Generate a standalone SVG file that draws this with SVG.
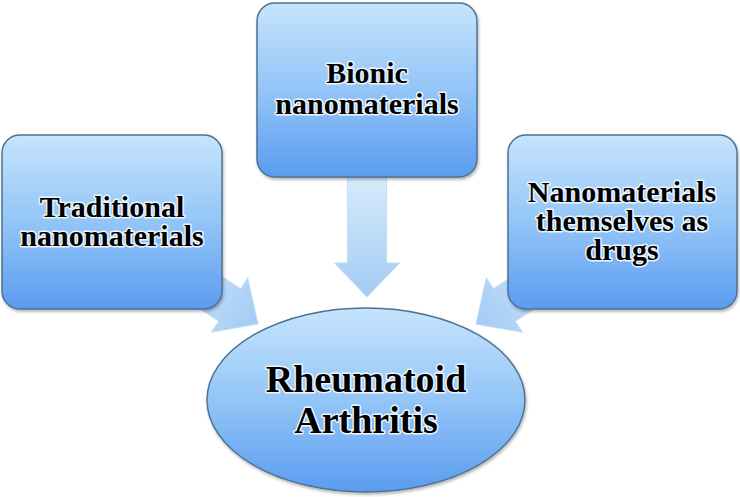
<svg xmlns="http://www.w3.org/2000/svg" width="740" height="497" viewBox="0 0 740 497">
<defs>
<linearGradient id="boxg" x1="0" y1="0" x2="0" y2="1">
<stop offset="0" stop-color="#c6e4fc"/>
<stop offset="0.5" stop-color="#93c5f7"/>
<stop offset="1" stop-color="#5b9cf0"/>
</linearGradient>
<linearGradient id="arrg" x1="0" y1="0" x2="0" y2="1">
<stop offset="0" stop-color="#d6ebfc"/>
<stop offset="1" stop-color="#a3cbf4"/>
</linearGradient>
<filter id="sh" x="-10%" y="-10%" width="120%" height="125%">
<feDropShadow dx="1" dy="2" stdDeviation="1.5" flood-color="#000" flood-opacity="0.3"/>
</filter>
<path id="arrow" d="M -19.5 0 L 19.5 0 L 19.5 86 L 32.5 86 L 0 120 L -32.5 86 L -19.5 86 Z"/>
</defs>
<style>
.box{fill:url(#boxg);stroke:#4d7394;stroke-width:1.5;filter:url(#sh)}
.arr{fill:url(#arrg);stroke:#bcdcf7;stroke-width:1}
.t{font-family:"Liberation Serif","Times New Roman",serif;font-weight:bold;fill:#000;text-anchor:middle;stroke:#eaf5ff;stroke-width:3;stroke-linejoin:round;paint-order:stroke}
.s{font-size:30px}
.l{font-size:38px}
</style>
<rect width="740" height="497" fill="#ffffff"/>
<g id="connectors">
<use href="#arrow" class="arr" transform="translate(367,177)"/>
<use href="#arrow" class="arr" transform="translate(258,324) rotate(-56.3) translate(0,-120)"/>
<use href="#arrow" class="arr" transform="translate(476,324) rotate(56.3) translate(0,-120)"/>
</g>
<g id="traditional">
<rect class="box" x="2" y="135" width="220" height="174" rx="18"/>
<text class="t s" x="112" y="217">Traditional</text>
<text class="t s" x="112" y="246">nanomaterials</text>
</g>
<g id="bionic">
<rect class="box" x="257" y="3" width="220" height="174" rx="18"/>
<text class="t s" x="367" y="83">Bionic</text>
<text class="t s" x="367" y="114">nanomaterials</text>
</g>
<g id="drugs">
<rect class="box" x="508" y="135" width="229" height="174" rx="18"/>
<text class="t s" x="622" y="202">Nanomaterials</text>
<text class="t s" x="622" y="231">themselves as</text>
<text class="t s" x="622" y="260">drugs</text>
</g>
<g id="ra">
<ellipse class="box" cx="366" cy="400" rx="159" ry="92"/>
<text class="t l" x="366" y="392">Rheumatoid</text>
<text class="t l" x="366" y="433">Arthritis</text>
</g>
</svg>
